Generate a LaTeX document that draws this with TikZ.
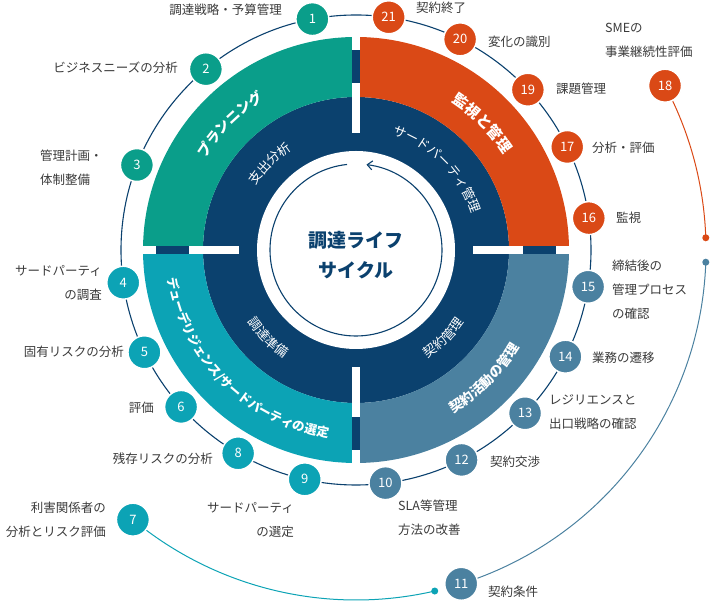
\documentclass[tikz,border=0pt]{standalone}
\usepackage{fontspec}
\setmainfont{Noto Sans CJK JP}
\usetikzlibrary{calc,decorations.text,arrows.meta}
\definecolor{navy}{HTML}{0B416E}
\definecolor{cgreen}{HTML}{0A9E8A}
\definecolor{corange}{HTML}{DA4916}
\definecolor{ccyan}{HTML}{0CA3B5}
\definecolor{csteel}{HTML}{4B81A0}
\definecolor{ctext}{HTML}{3A3A3A}
\tikzset{
  num/.style={circle, minimum size=33pt, inner sep=0pt, draw=white, line width=1.5pt, text=white, font=\fontsize{13}{13}\selectfont},
  lbl/.style={text=ctext, inner sep=0pt, font=\fontsize{12.5}{24}\selectfont},
  dotm/.style={circle, inner sep=0pt, minimum size=7pt},
}
\begin{document}
\begin{tikzpicture}[x=1pt,y=1pt]
\useasboundingbox (0,0) rectangle (712,604);
\coordinate (C) at (356,354);
% outer thin circle
\draw[navy, line width=1.1pt] (C) circle[radius=235];
% long arcs
\coordinate (p18) at ($(C)+(28:350)$);
\coordinate (p7) at ($(C)+(230.4:350)$);
\coordinate (p11) at ($(C)+(287.5:350)$);
\coordinate (dO) at ($(C)+(2:350)$);
\coordinate (dB) at ($(C)+(-2:350)$);
\coordinate (dC) at ($(C)+(283:350)$);
\draw[corange, line width=1pt] (p18) arc[start angle=28,end angle=2,radius=350];
\draw[csteel, line width=1pt] (dB) arc[start angle=-2,end angle=-72.5,radius=350];
\draw[ccyan, line width=1pt] (p7) arc[start angle=230.4,end angle=283,radius=350];
\node[dotm, fill=corange] (dotO) at (dO) {};
\node[dotm, fill=csteel] (dotB) at (dB) {};
\node[dotm, fill=ccyan] (dotC) at (dC) {};
% rings
\fill[navy] (C) circle[radius=153];
\fill[cgreen] ($(C)+(90:213)$) arc[start angle=90,end angle=180,radius=213] -- ($(C)+(180:153)$) arc[start angle=180,end angle=90,radius=153] -- cycle;
\fill[corange] ($(C)+(0:213)$) arc[start angle=0,end angle=90,radius=213] -- ($(C)+(90:153)$) arc[start angle=90,end angle=0,radius=153] -- cycle;
\fill[ccyan] ($(C)+(180:213)$) arc[start angle=180,end angle=270,radius=213] -- ($(C)+(270:153)$) arc[start angle=270,end angle=180,radius=153] -- cycle;
\fill[csteel] ($(C)+(270:213)$) arc[start angle=270,end angle=360,radius=213] -- ($(C)+(0:153)$) arc[start angle=0,end angle=-90,radius=153] -- cycle;
% white gap bars
\fill[white] ($(C)+(-215,-4)$) rectangle ($(C)+(-117,4)$);
\fill[white] ($(C)+(117,-4)$) rectangle ($(C)+(215,4)$);
\fill[white] ($(C)+(-4,117)$) rectangle ($(C)+(4,215)$);
\fill[white] ($(C)+(-4,-215)$) rectangle ($(C)+(4,-117)$);
% navy small pieces
\fill[navy] ($(C)+(-200,-4)$) rectangle ($(C)+(-167,4)$);
\fill[navy] ($(C)+(167,-4)$) rectangle ($(C)+(200,4)$);
\fill[navy] ($(C)+(-4,167)$) rectangle ($(C)+(4,200)$);
\fill[navy] ($(C)+(-4,-200)$) rectangle ($(C)+(4,-167)$);
% center
\fill[white] (C) circle[radius=99];
\draw[navy, line width=1.1pt, -{Straight Barb[length=5pt,width=9pt]}] ($(C)+(96:86)$) arc[start angle=96,end angle=443,radius=86];
\node[text=navy, align=center, font=\fontsize{19}{30}\selectfont\bfseries] (center) at ($(C)+(0,-5)$) {調達ライフ\\サイクル};
% quadrant texts
\path[decorate, decoration={text along path, text align=center, text={|\fontsize{14}{14}\selectfont\bfseries\color{white}|プランニング}}] ($(C)+(165:176)$) arc[start angle=165,end angle=105,radius=176];
\path[decorate, decoration={text along path, text align=center, text={|\fontsize{15}{15}\selectfont\bfseries\color{white}|監視と管理}}] ($(C)+(75:176)$) arc[start angle=75,end angle=15,radius=176];
\path[decorate, decoration={text along path, text align=center, text={|\fontsize{13}{13}\selectfont\color{white}|支出分析}}] ($(C)+(165:119)$) arc[start angle=165,end angle=105,radius=119];
\path[decorate, decoration={text along path, text align=center, text={|\fontsize{13}{13}\selectfont\color{white}|サードパーティ管理}}] ($(C)+(88:121)$) arc[start angle=88,end angle=2,radius=121];
\path[decorate, decoration={text along path, text align=center, text={|\fontsize{12.5}{13}\selectfont\bfseries\color{white}|デューデリジェンス/サードパーティの選定}}] ($(C)+(180:190)$) arc[start angle=180,end angle=270,radius=190];
\path[decorate, decoration={text along path, text align=center, text={|\fontsize{13}{13}\selectfont\color{white}|調達準備}}] ($(C)+(195:130)$) arc[start angle=195,end angle=255,radius=130];
\path[decorate, decoration={text along path, text align=center, text={|\fontsize{13}{13}\selectfont\color{white}|契約管理}}] ($(C)+(285:130)$) arc[start angle=285,end angle=345,radius=130];
\path[decorate, decoration={text along path, text align=center, text={|\fontsize{13.5}{14}\selectfont\bfseries\color{white}|契約活動の管理}}] ($(C)+(275:190)$) arc[start angle=275,end angle=355,radius=190];
% numbered nodes
\node[num, fill=cgreen] (n1) at ($(C)+(100.7:235)$) {1};
\node[num, fill=cgreen] (n2) at ($(C)+(129.7:235)$) {2};
\node[num, fill=cgreen] (n3) at ($(C)+(158.8:235)$) {3};
\node[num, fill=ccyan] (n4) at ($(C)+(188:235)$) {4};
\node[num, fill=ccyan] (n5) at ($(C)+(205.8:235)$) {5};
\node[num, fill=ccyan] (n6) at ($(C)+(221.9:235)$) {6};
\node[num, fill=ccyan] (n8) at ($(C)+(239.9:235)$) {8};
\node[num, fill=ccyan] (n9) at ($(C)+(257.4:235)$) {9};
\node[num, fill=csteel] (n10) at ($(C)+(277.2:235)$) {10};
\node[num, fill=csteel] (n12) at ($(C)+(296.7:235)$) {12};
\node[num, fill=csteel] (n13) at ($(C)+(316:235)$) {13};
\node[num, fill=csteel] (n14) at ($(C)+(333:235)$) {14};
\node[num, fill=csteel] (n15) at ($(C)+(351:235)$) {15};
\node[num, fill=corange] (n16) at ($(C)+(7.8:235)$) {16};
\node[num, fill=corange] (n17) at ($(C)+(26:235)$) {17};
\node[num, fill=corange] (n19) at ($(C)+(43:235)$) {19};
\node[num, fill=corange] (n20) at ($(C)+(63.7:235)$) {20};
\node[num, fill=corange] (n21) at ($(C)+(82:235)$) {21};
\node[num, fill=corange] (n18) at (p18) {18};
\node[num, fill=ccyan] (n7) at (p7) {7};
\node[num, fill=csteel] (n11) at (p11) {11};
% labels
\node[lbl, anchor=east] (l1) at (282,594) {調達戦略・予算管理};
\node[lbl, anchor=east] (l2) at (178,536) {ビジネスニーズの分析};
\node[lbl, anchor=west, align=left] (l3) at (40,436) {管理計画・\\体制整備};
\node[lbl, anchor=east, align=right] (l4) at (102,321) {サードパーティ\\の調査};
\node[lbl, anchor=east] (l5) at (124,252) {固有リスクの分析};
\node[lbl, anchor=east] (l6) at (154,196) {評価};
\node[lbl, anchor=east] (l8) at (213,145) {残存リスクの分析};
\node[lbl, anchor=east, align=right] (l9) at (294,84) {サードパーティ\\の選定};
\node[lbl, anchor=east, align=right] (l7) at (106,84) {利害関係者の\\分析とリスク評価};
\node[lbl, anchor=west, align=left] (l10) at (398,86) {SLA等管理\\方法の改善};
\node[lbl, anchor=west] (l11) at (488,12) {契約条件};
\node[lbl, anchor=west] (l12) at (490,142) {契約交渉};
\node[lbl, anchor=west, align=left] (l13) at (549,192) {レジリエンスと\\出口戦略の確認};
\node[lbl, anchor=west] (l14) at (592,246) {業務の遷移};
\node[lbl, anchor=west, align=left] (l15) at (612,314) {締結後の\\管理プロセス\\の確認};
\node[lbl, anchor=west] (l16) at (616,386) {監視};
\node[lbl, anchor=west] (l17) at (592,456) {分析・評価};
\node[lbl, anchor=west] (l19) at (556,515) {課題管理};
\node[lbl, anchor=west] (l20) at (488,562) {変化の識別};
\node[lbl, anchor=west] (l21) at (416,596) {契約終了};
\node[lbl, anchor=west, align=left] (l18) at (605,564) {SMEの\\事業継続性評価};
\end{tikzpicture}
\end{document}
